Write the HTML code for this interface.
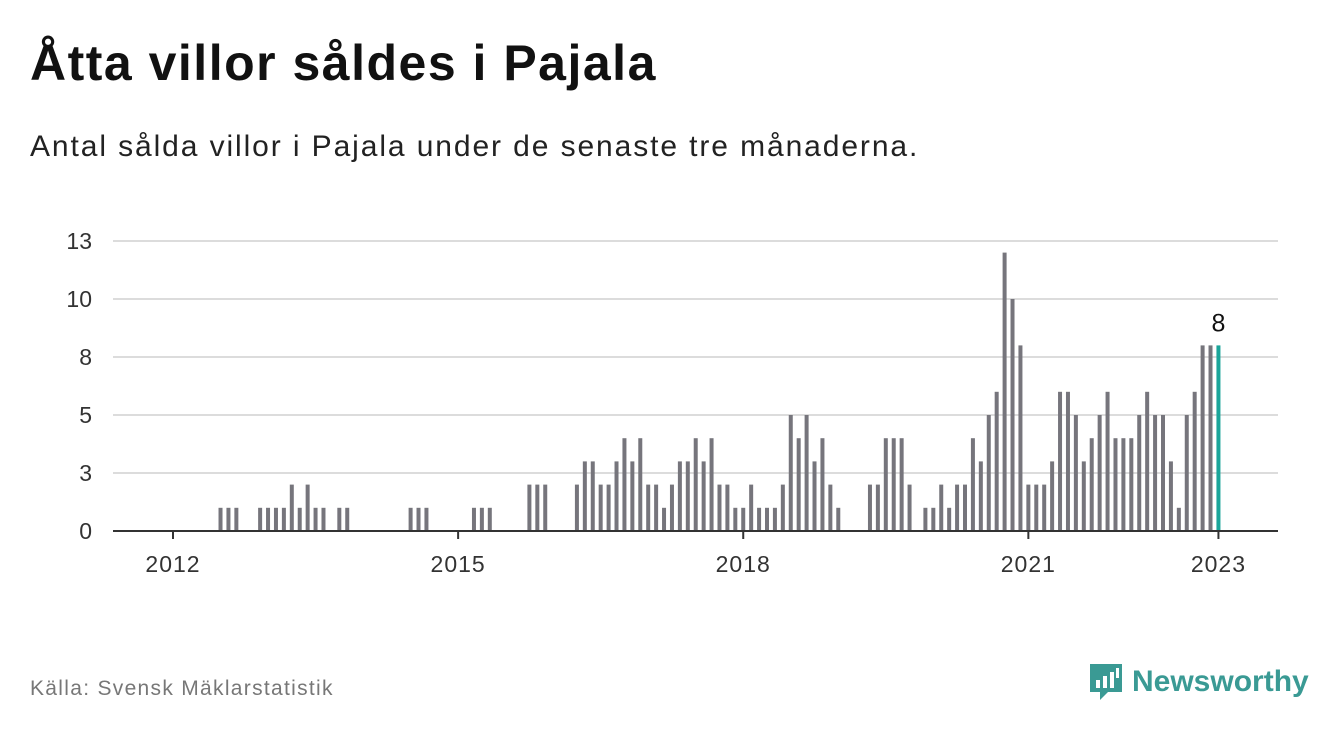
<!DOCTYPE html>
<html><head><meta charset="utf-8">
<style>
body{margin:0;width:1340px;height:734px;background:#fff;font-family:"Liberation Sans",sans-serif;overflow:hidden}
#title{position:absolute;left:30px;top:34px;font-size:50px;letter-spacing:1.5px;font-weight:bold;color:#111;margin:0}
#sub{position:absolute;left:30px;top:130px;font-size:30px;letter-spacing:1.9px;color:#222;margin:0}
#src{position:absolute;left:30px;top:677px;font-size:21px;letter-spacing:1.3px;color:#777}
#logo{position:absolute;left:1088px;top:662px;display:flex;align-items:center}
#logo span{font-size:30px;font-weight:bold;color:#3a9a94;margin-left:8px}
svg{position:absolute;left:0;top:0}
</style></head><body>
<h1 id="title">Åtta villor såldes i Pajala</h1>
<p id="sub">Antal sålda villor i Pajala under de senaste tre månaderna.</p>
<div id="src">Källa: Svensk Mäklarstatistik</div>
<div id="logo">
<svg width="36" height="40" style="position:static"><path d="M2 2h32v28h-14l-8 8v-8h-10z" fill="#3a9a94"/><rect x="8" y="18" width="4" height="8" fill="#fff"/><rect x="15" y="14" width="4" height="12" fill="#fff"/><rect x="22" y="10" width="4" height="16" fill="#fff"/><rect x="28" y="6" width="3" height="10" fill="#fff"/></svg>
<span>Newsworthy</span></div>
<svg id="chart" width="1340" height="734"></svg>
<script>
const values=[0,0,0,0,0,0,1,1,1,0,0,1,1,1,1,2,1,2,1,1,0,1,1,0,0,0,0,0,0,0,1,1,1,0,0,0,0,0,1,1,1,0,0,0,0,2,2,2,0,0,0,
2,3,3,2,2,3,4,3,4,2,2,1,2,3,3,4,3,4,2,2,1,1,2,1,1,1,2,5,4,5,3,4,2,1,
0,0,0,
2,2,4,4,4,2,0,1,1,2,1,2,2,4,3,5,6,12,10,8,2,2,2,3,6,6,5,3,4,5,6,4,4,4,5,6,5,5,3,1,5,6,8,8,8];
const yTicks=[0,2.5,5,7.5,10,12.5];
const yTickLabels=["0","3","5","8","10","13"];
const xTickMonths=[0,36,72,108,132];
const xTickLabels=["2012","2015","2018","2021","2023"];
const NS="http://www.w3.org/2000/svg";
const svg=document.getElementById('chart');
const x=i=>173+i*7.92;
const y=v=>531-v*23.2;
function mk(t,a){const e=document.createElementNS(NS,t);for(const k in a)e.setAttribute(k,a[k]);svg.appendChild(e);return e;}
yTicks.forEach((t,k)=>{
 if(t>0){const g=mk('line',{x1:113,x2:1278,y1:y(t),y2:y(t),stroke:'#dcdcdc','stroke-width':2});
 
 }
 const l=mk('text',{x:92,y:y(t)+8,'text-anchor':'end','font-size':23,fill:'#333','font-family':'Liberation Sans'});
 l.textContent=yTickLabels[k];
 
 
});
values.forEach((v,i)=>{
 if(v<=0)return;
 const last=i===values.length-1;
 const r=mk('rect',{x:x(i)-2,y:y(v),width:4,height:v*23.2,fill:last?'#1aa59a':'#76757c'});
 
 
});
const lv=values.length-1;
const vl=mk('text',{x:x(lv),y:y(values[lv])-14,'text-anchor':'middle','font-size':25,fill:'#111','font-family':'Liberation Sans'});
vl.textContent=String(values[lv]);


const ax=mk('line',{x1:113,x2:1278,y1:531,y2:531,stroke:'#333','stroke-width':2});


xTickMonths.forEach((m,k)=>{
 const t=mk('line',{x1:x(m),x2:x(m),y1:531,y2:539,stroke:'#333','stroke-width':2});
 
 
 const l=mk('text',{x:x(m),y:572,'text-anchor':'middle','font-size':23,'letter-spacing':1,fill:'#333','font-family':'Liberation Sans'});
 l.textContent=xTickLabels[k];
 
 
});
</script>
</body></html>
